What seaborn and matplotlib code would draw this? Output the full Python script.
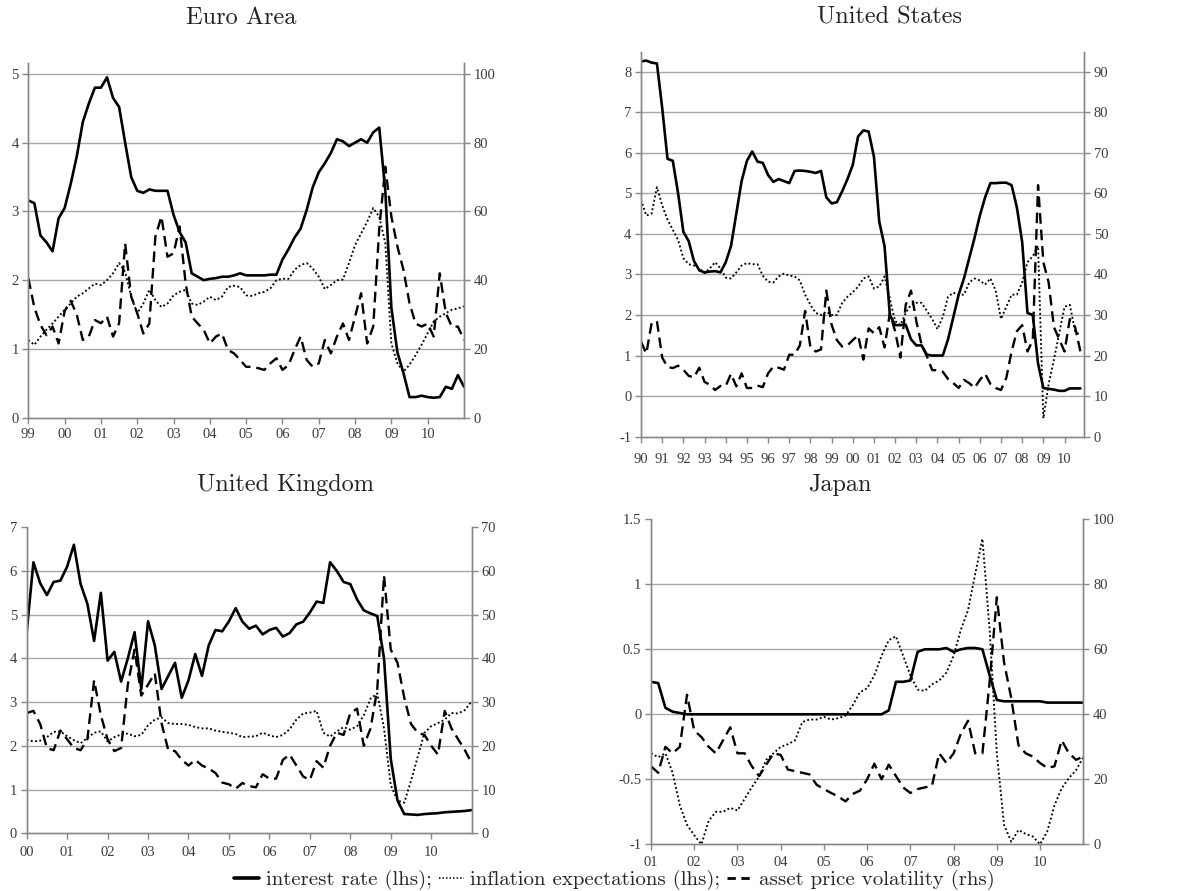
import numpy as np
import matplotlib.pyplot as plt
from matplotlib.lines import Line2D
import seaborn as sns

# Euro Area, bimonthly from Jan 1999 (rate, inflation expectations: lhs; volatility: rhs)
ea_rate = [3.16, 3.12, 2.65, 2.55, 2.42, 2.9,
           3.05, 3.4, 3.8, 4.3, 4.57, 4.8,
           4.8, 4.95, 4.65, 4.52, 4.0, 3.5,
           3.3, 3.27, 3.32, 3.3, 3.3, 3.3,
           2.95, 2.7, 2.55, 2.1, 2.05, 2.0,
           2.02, 2.03, 2.05, 2.05, 2.07, 2.1,
           2.07, 2.07, 2.07, 2.07, 2.08, 2.08,
           2.3, 2.45, 2.62, 2.75, 3.02, 3.35,
           3.57, 3.7, 3.85, 4.05, 4.02, 3.95,
           4.0, 4.05, 4.0, 4.15, 4.22, 3.3,
           1.6, 0.95, 0.65, 0.3, 0.3, 0.32,
           0.3, 0.29, 0.3, 0.45, 0.42, 0.62,
           0.45]
ea_infl = [1.13, 1.06, 1.18, 1.28, 1.37, 1.47,
           1.57, 1.66, 1.76, 1.81, 1.88, 1.95,
           1.93, 2.0, 2.1, 2.25, 2.12, 1.76,
           1.52, 1.66, 1.86, 1.71, 1.61, 1.66,
           1.78, 1.83, 1.86, 1.66, 1.64, 1.69,
           1.76, 1.71, 1.76, 1.9, 1.92, 1.9,
           1.78, 1.77, 1.81, 1.83, 1.88, 2.0,
           2.02, 2.02, 2.15, 2.22, 2.25, 2.17,
           2.05, 1.87, 1.93, 2.0, 2.01, 2.25,
           2.51, 2.68, 2.85, 3.05, 2.92, 2.54,
           1.08, 0.79, 0.67, 0.77, 0.91, 1.06,
           1.23, 1.4, 1.47, 1.52, 1.57, 1.59,
           1.62]
ea_vol = [40.5, 32, 27, 24, 26.5, 21.6,
          31, 34, 30, 22.6, 23.6, 28.4,
          27.5, 29.4, 23.6, 27.5, 50.7, 35.2,
          30.4, 24.5, 27.4, 52.7, 58.5, 46.8,
          47.8, 55.6, 39, 29.4, 27.4, 25.5,
          21.6, 23.6, 24.5, 19.7, 18.7, 16.8,
          14.8, 14.8, 14.4, 13.9, 15.8, 17.3,
          13.9, 15.3, 19.7, 23.6, 16.8, 14.8,
          15.8, 22.6, 18.7, 23.6, 27.4, 22.6,
          29.4, 36.2, 21.6, 26.5, 55, 73,
          58.5, 49.8, 43, 33.3, 27.4, 26.5,
          27.4, 23.6, 42, 30.4, 26.5, 26.5,
          22.6]

# United States, quarterly from 1990
us_rate = [8.25, 8.27, 8.22, 8.2, 7.1, 5.85, 5.8, 5.0,
           4.05, 3.82, 3.33, 3.1, 3.05, 3.07, 3.08, 3.05,
           3.3, 3.7, 4.5, 5.3, 5.8, 6.03, 5.78, 5.75,
           5.45, 5.28, 5.35, 5.3, 5.25, 5.55, 5.56, 5.55,
           5.53, 5.5, 5.55, 4.9, 4.75, 4.78, 5.05, 5.35,
           5.7, 6.4, 6.55, 6.52, 5.9, 4.3, 3.7, 2.0,
           1.75, 1.75, 1.76, 1.4, 1.25, 1.25, 1.02, 1.0,
           1.0, 1.0, 1.4, 1.95, 2.5, 2.9, 3.4, 3.9,
           4.45, 4.9, 5.25, 5.25, 5.26, 5.26, 5.2, 4.65,
           3.8, 2.05, 2.0, 0.8, 0.2, 0.18, 0.16, 0.13,
           0.13, 0.19, 0.19, 0.19]
us_infl = [4.84, 4.45, 4.5, 5.15, 4.7, 4.35, 4.1, 3.85,
           3.4, 3.25, 3.22, 3.15, 3.03, 3.15, 3.3, 3.15,
           2.92, 2.9, 3.05, 3.22, 3.28, 3.25, 3.25, 2.97,
           2.82, 2.8, 2.95, 3.02, 2.97, 2.95, 2.85, 2.5,
           2.25, 2.05, 2.0, 2.08, 2.0, 2.0, 2.3, 2.45,
           2.56, 2.7, 2.9, 2.95, 2.65, 2.7, 2.95, 2.4,
           1.85, 1.75, 2.05, 2.25, 2.3, 2.3, 2.1, 1.9,
           1.65, 1.95, 2.45, 2.55, 2.5, 2.5, 2.8, 2.9,
           2.85, 2.75, 2.9, 2.6, 1.9, 2.2, 2.5, 2.5,
           2.8, 3.3, 3.45, 3.7, -0.55, 0.3, 0.9, 1.55,
           2.2, 2.25, 1.6, 1.5]
us_vol = [23.4, 20.5, 28, 28.5, 19.5, 17.2, 16.9, 17.5,
          16.5, 15, 14.6, 17, 13.5, 12.8, 11.5, 12.5,
          12.5, 15.5, 12.4, 15.6, 12, 12, 12.6, 12.2,
          15.6, 17.3, 17, 16.5, 20.2, 20.2, 22.5, 31,
          22, 21, 21.5, 36, 27.6, 23.8, 22.2, 22.5,
          23.8, 25, 19, 26.7, 25.5, 27, 22, 30.4,
          26, 19.5, 32.5, 36, 28.5, 22.6, 19.8, 16.4,
          16.4, 16, 14.2, 13.2, 12, 14, 13.2, 12,
          14, 15.5, 13, 12, 11.5, 14.5, 21, 26,
          27.5, 21, 23.8, 62, 43, 38, 27, 24,
          21, 29, 27, 21]

# United Kingdom, bimonthly from Jan 2000
uk_rate = [4.6, 6.2, 5.72, 5.45, 5.75, 5.78,
           6.1, 6.6, 5.7, 5.25, 4.4, 5.5,
           3.95, 4.15, 3.47, 4.0, 4.6, 3.3,
           4.85, 4.3, 3.3, 3.6, 3.9, 3.1,
           3.5, 4.1, 3.6, 4.3, 4.65, 4.62,
           4.85, 5.15, 4.84, 4.68, 4.75, 4.55,
           4.65, 4.7, 4.5, 4.58, 4.78, 4.84,
           5.05, 5.3, 5.27, 6.2, 6.0, 5.75,
           5.7, 5.35, 5.1, 5.03, 4.97, 4.0,
           1.7, 0.75, 0.44, 0.43, 0.42, 0.44,
           0.45, 0.46, 0.48, 0.49, 0.5, 0.51,
           0.53]
uk_infl = [2.14, 2.1, 2.12, 2.2, 2.32, 2.33,
           2.22, 2.13, 2.06, 2.18, 2.3, 2.33,
           2.1, 2.2, 2.26, 2.28, 2.22, 2.25,
           2.47, 2.6, 2.65, 2.52, 2.5, 2.5,
           2.48, 2.43, 2.4, 2.4, 2.35, 2.32,
           2.3, 2.27, 2.2, 2.21, 2.22, 2.3,
           2.24, 2.2, 2.25, 2.38, 2.6, 2.74,
           2.76, 2.8, 2.3, 2.21, 2.33, 2.43,
           2.37, 2.45, 2.7, 3.08, 3.2, 2.4,
           1.1, 0.75, 0.7, 1.2, 1.75, 2.3,
           2.45, 2.52, 2.6, 2.75, 2.74, 2.82,
           3.02]
uk_vol = [27.5, 28, 25, 19.5, 19, 23.5,
          21.5, 19.5, 19, 21.5, 35, 27,
          21.5, 18.8, 19.5, 34, 42, 31.5,
          34, 36.6, 25.2, 19, 18.8, 16.8,
          15.5, 16.8, 15.5, 14.8, 13.8, 11.6,
          11.2, 10.2, 11.5, 10.8, 10.5, 13.5,
          12.5, 12.5, 16.8, 18, 15.5, 13,
          12.2, 16.5, 15, 20, 23, 22.5,
          27.5, 28.5, 20, 24, 33, 59,
          42, 39, 31, 25, 23, 22.5,
          20, 18, 28, 24, 21.5, 19,
          16]

# Japan, bimonthly from Jan 2001
jp_rate = [0.25, 0.24, 0.05, 0.02, 0.01, 0.0,
           0.0, 0.0, 0.0, 0.0, 0.0, 0.0,
           0.0, 0.0, 0.0, 0.0, 0.0, 0.0,
           0.0, 0.0, 0.0, 0.0, 0.0, 0.0,
           0.0, 0.0, 0.0, 0.0, 0.0, 0.0,
           0.0, 0.0, 0.0, 0.03, 0.25, 0.25,
           0.26, 0.48, 0.5, 0.5, 0.5, 0.51,
           0.48, 0.5, 0.51, 0.51, 0.5, 0.3,
           0.11, 0.1, 0.1, 0.1, 0.1, 0.1,
           0.1, 0.09, 0.09, 0.09, 0.09, 0.09,
           0.09]
jp_infl = [-0.3, -0.33, -0.3, -0.45, -0.7, -0.85,
           -0.93, -1.0, -0.82, -0.75, -0.75, -0.72,
           -0.74, -0.65, -0.56, -0.48, -0.35, -0.3,
           -0.25, -0.23, -0.2, -0.06, -0.04, -0.04,
           -0.02, -0.04, -0.03, -0.01, 0.07, 0.17,
           0.2, 0.3, 0.45, 0.57, 0.6, 0.45,
           0.3, 0.19, 0.18, 0.23, 0.26, 0.32,
           0.45, 0.65, 0.8, 1.08, 1.35, 0.65,
           -0.3, -0.85, -0.98, -0.89, -0.92, -0.94,
           -1.0, -0.9, -0.7, -0.57, -0.49, -0.43,
           -0.33]
jp_vol = [24, 22, 30, 28, 30, 46,
          35, 33, 30, 28, 32, 36,
          28, 28, 24, 21, 24.5, 28,
          27.5, 23, 22.5, 22, 21.5, 18.3,
          17, 15.8, 14.7, 13.2, 15.5, 16.5,
          20, 24.8, 20, 24.5, 21, 17.5,
          15.8, 17, 17.5, 18, 28, 25,
          28, 34, 38, 28, 28, 50,
          76, 56, 45, 30.5, 28, 27,
          25, 23.5, 24, 32, 28, 26,
          27]

sns.set_style('ticks')
plt.rcParams['font.family'] = ['Liberation Serif', 'DejaVu Serif']
plt.rcParams['axes.unicode_minus'] = False

GRID = '#a8a8a8'
AXC = '#888888'
TXT = '#3c3c3c'
DOT = (0, (1, 1.3))
DASH = (0, (4.5, 2.5))

fig = plt.figure(figsize=(11.86, 8.91), dpi=100)


def dates(start, per_year, vals):
    return start + np.arange(len(vals)) / per_year


def panel(rect, start, per_year, rate, infl, vol, xlim, years,
          lylim, lticks, llabels, rylim, rticks, xpad):
    ax = fig.add_axes(rect)
    ax2 = ax.twinx()
    sns.lineplot(x=dates(start, per_year, rate), y=np.array(rate), ax=ax,
                 color='black', linewidth=1.9)
    sns.lineplot(x=dates(start, per_year, infl), y=np.array(infl), ax=ax,
                 color='black', linewidth=1.35, linestyle=DOT)
    sns.lineplot(x=dates(start, per_year, vol), y=np.array(vol), ax=ax2,
                 color='black', linewidth=1.7, linestyle=DASH)

    ax.set_xlim(xlim)
    ax.set_xticks(years)
    ax.set_xticklabels(['%02d' % (y % 100) for y in years])
    ax.set_ylim(lylim)
    ax.set_yticks(lticks)
    ax.set_yticklabels(llabels)
    ax2.set_ylim(rylim)
    ax2.set_yticks(rticks)
    ax2.set_yticklabels([str(v) for v in rticks])
    ax.set_xlabel('')
    ax.set_ylabel('')
    ax2.set_ylabel('')

    for v in lticks:
        if lylim[0] < v < lylim[1] - 1e-6:
            ax.axhline(v, color=GRID, linewidth=1.0, zorder=0)

    for a in (ax, ax2):
        a.spines['top'].set_visible(False)
        for s in ('left', 'right', 'bottom'):
            a.spines[s].set_color(AXC)
            a.spines[s].set_linewidth(1.0)
        a.tick_params(direction='out', length=4, width=1, color=AXC,
                      labelcolor=TXT, labelsize=10.5, pad=3)
    ax.tick_params(axis='x', pad=xpad)
    return ax, ax2


panel([0.0239, 0.5312, 0.3673, 0.3978], 1999, 6, ea_rate, ea_infl, ea_vol,
      (1999, 2011), list(range(1999, 2011)),
      (0, 5.155), [0, 1, 2, 3, 4, 5], ['0', '1', '2', '3', '4', '5'],
      (0, 103.1), [0, 20, 40, 60, 80, 100], 3.5)

panel([0.5405, 0.5099, 0.3735, 0.4321], 1990, 4, us_rate, us_infl, us_vol,
      (1990, 2010.92), list(range(1990, 2011)),
      (-1, 8.49), list(range(-1, 9)), [str(v) for v in range(-1, 9)],
      (0, 94.9), list(range(0, 91, 10)), 7.5)

panel([0.0225, 0.0648, 0.3752, 0.3434], 2000, 6, uk_rate, uk_infl, uk_vol,
      (2000, 2011), list(range(2000, 2011)),
      (0, 7), list(range(0, 8)), [str(v) for v in range(0, 8)],
      (0, 70), list(range(0, 71, 10)), 5.5)

panel([0.5489, 0.0524, 0.3645, 0.3648], 2001, 6, jp_rate, jp_infl, jp_vol,
      (2001, 2011), list(range(2001, 2011)),
      (-1, 1.5), [-1, -0.5, 0, 0.5, 1, 1.5], ['-1', '-0.5', '0', '0.5', '1', '1.5'],
      (0, 100), [0, 20, 40, 60, 80, 100], 4.5)

title_kw = dict(fontfamily='cmr10', fontsize=17.5, color='#222222', ha='center', va='center')
fig.text(0.203, 0.980, 'Euro Area', **title_kw)
fig.text(0.750, 0.980, 'United States', **title_kw)
fig.text(0.241, 0.456, 'United Kingdom', **title_kw)
fig.text(0.708, 0.456, 'Japan', **title_kw)

handles = [Line2D([], [], color='black', linewidth=2.6),
           Line2D([], [], color='black', linewidth=1.1, linestyle=DOT),
           Line2D([], [], color='black', linewidth=2.0, linestyle=(0, (3, 2)))]
labels = ['interest rate (lhs);', 'inflation expectations (lhs);',
          'asset price volatility (rhs)']
fig.legend(handles, labels, loc='center', bbox_to_anchor=(0.518, 1 - 880 / 891),
           ncol=3, frameon=False, prop={'family': 'cmr10', 'size': 15},
           handlelength=1.2, handletextpad=0.3, columnspacing=0.35,
           borderpad=0, borderaxespad=0)

fig.savefig('out.png', dpi=100)
